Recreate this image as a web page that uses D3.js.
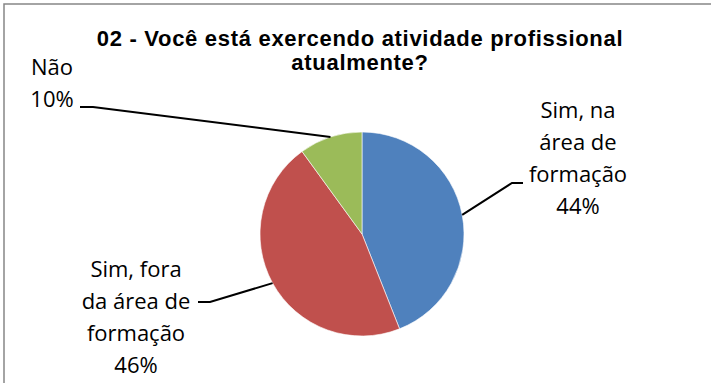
<!DOCTYPE html>
<html>
<head>
<meta charset="utf-8">
<script src="https://cdn.jsdelivr.net/npm/d3@7"></script>
<style>
  html, body { margin: 0; padding: 0; background: #fff; }
  svg { display: block; }
</style>
</head>
<body>
<svg id="chart" width="711" height="383"></svg>
<script>
// Survey answers and their shares (%)
const categories = ["Sim, na área de formação", "Sim, fora da área de formação", "Não"];
const values = [44, 46, 10];
const labelLines = [["Sim, na", "área de", "formação"], ["Sim, fora", "da área de", "formação"], ["Não"]];
const colors = ["#4F81BD", "#C0504D", "#9BBB59"];
const titleLines = ["02 - Você está exercendo atividade profissional", "atualmente?"];

const svg = d3.select("#chart");
const W = 711, H = 383;
const cx = 362, cy = 234, r = 102;

// chart frame
svg.append("rect")
  .attr("x", 4).attr("y", 4)
  .attr("width", W + 20).attr("height", H + 20)
  .attr("fill", "#fff")
  .attr("stroke", "#868686").attr("stroke-width", 1.5);

// title
svg.append("text")
  .attr("text-anchor", "middle")
  .attr("font-family", "Liberation Sans, Arial, sans-serif")
  .attr("font-weight", "bold")
  .attr("font-size", 22)
  .attr("letter-spacing", 0.7)
  .attr("fill", "#000")
  .selectAll("tspan").data(titleLines).join("tspan")
  .attr("x", 360)
  .attr("y", (d, i) => 46 + i * 24)
  .text(d => d);

const pie = d3.pie().sort(null).value(d => d).startAngle(0).endAngle(2 * Math.PI);
const arcs = pie(values);
const arc = d3.arc().innerRadius(0).outerRadius(r);
const edge = d3.arc().innerRadius(r).outerRadius(r);

const g = svg.append("g").attr("transform", `translate(${cx},${cy})`);
g.selectAll("path").data(arcs).join("path")
  .attr("d", arc)
  .attr("fill", (d, i) => colors[i])
  .attr("stroke", "#fff")
  .attr("stroke-width", 0.6);

// label placement: text centre, first baseline, leader elbow and end
const layout = [
  { tx: 578, ty: 118, elbow: [512, 183], end: [523, 183] },
  { tx: 136, ty: 277, elbow: [210, 302], end: [198, 302] },
  { tx: 52,  ty: 75,  elbow: [93, 107],  end: [80, 107] }
];
const lineH = 32;

arcs.forEach((d, i) => {
  const c = edge.centroid(d);
  const start = [cx + c[0], cy + c[1]];
  const L = layout[i];
  svg.append("path")
    .attr("d", d3.line()([start, L.elbow, L.end]))
    .attr("fill", "none")
    .attr("stroke", "#000")
    .attr("stroke-width", 2);

  const lines = labelLines[i].concat([values[i] + "%"]);
  svg.append("text")
    .attr("text-anchor", "middle")
    .attr("font-family", "Open Sans, sans-serif")
    .attr("font-size", 22)
    .attr("fill", "#000")
    .selectAll("tspan").data(lines).join("tspan")
    .attr("x", L.tx)
    .attr("y", (t, k) => L.ty + k * lineH)
    .text(t => t);
});
</script>
</body>
</html>
